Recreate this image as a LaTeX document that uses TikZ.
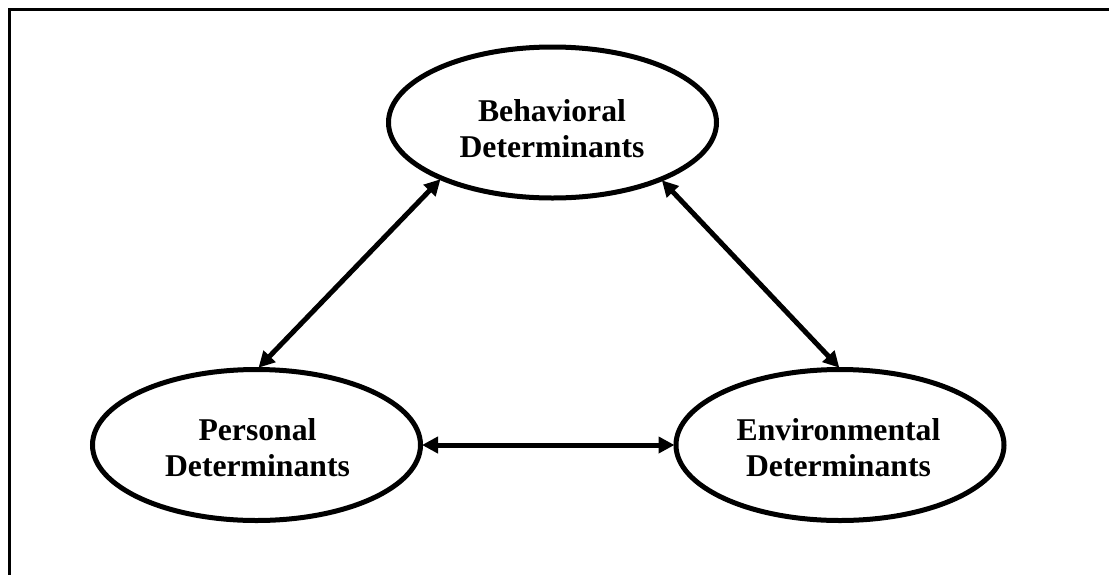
\documentclass[tikz,border=0pt]{standalone}
\usepackage{fontspec}
\setmainfont{Liberation Serif}
\usetikzlibrary{shapes.geometric,arrows.meta}
\tikzset{
  det/.style={ellipse, draw=black, line width=5pt, minimum width=328pt, minimum height=151pt, inner sep=0pt},
  lbl/.style={align=center, font=\bfseries\fontsize{31.7}{36}\selectfont, inner sep=0pt},
  link/.style={line width=5pt, {Triangle[length=16pt,width=16pt]}-{Triangle[length=16pt,width=16pt]}, shorten <=-1pt, shorten >=-1pt}
}
\begin{document}
\begin{tikzpicture}[x=1pt,y=-1pt]
\useasboundingbox (0,0) rectangle (1109,574);
\draw[line width=3.5pt] (1130,9.5) -- (9.5,9.5) -- (9.5,600);
\node[det] (B) at (552.5,122.5) {};
\node[det] (P) at (256.5,445) {};
\node[det] (E) at (840,445) {};
\node[lbl] (Bt) at (552,128.5) {Behavioral\\Determinants};
\node[lbl] (Pt) at (257.5,447.5) {Personal\\Determinants};
\node[lbl] (Et) at (838.5,447.5) {Environmental\\Determinants};
\draw[link] (P.88) -- (B.207);
\draw[link] (B.-28) -- (E.91);
\draw[link] (P.east) -- (E.west);
\end{tikzpicture}
\end{document}
